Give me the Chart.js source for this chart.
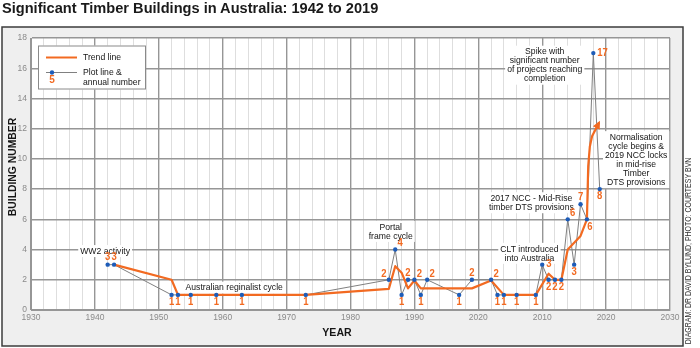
<!DOCTYPE html>
<html><head><meta charset="utf-8">
<script src="https://cdn.jsdelivr.net/npm/chart.js@4.4.1/dist/chart.umd.min.js"></script>
<style>
html,body{margin:0;padding:0;background:#fff;}
#wrap{position:relative;width:700px;height:348px;overflow:hidden;}
#title{position:absolute;left:2px;top:0px;font:bold 14.6px "Liberation Sans",Arial,sans-serif;color:#1a1a1a;white-space:nowrap;}
canvas{position:absolute;left:0;top:0;}
</style></head><body>
<div id="wrap"><canvas id="c" width="700" height="348"></canvas><div id="title">Significant Timber Buildings in Australia: 1942 to 2019</div></div>
<script>
// ---- data ----
const plotYears  = [1942,1943,1952,1953,1955,1959,1963,1973,1986,1987,1988,1989,1990,1991,1992,1997,1999,2002,2003,2004,2006,2009,2010,2011,2012,2013,2014,2015,2016,2017,2018,2019];
const plotCounts = [3,3,1,1,1,1,1,1,2,4,1,2,2,1,2,1,2,2,1,1,1,1,3,2,2,2,6,3,7,6,17,8];
const trendYears  = [1943,1952,1953,1973,1986,1987,1988,1989,1990,1991,1999,2002,2004,2009,2011,2012,2013,2014,2016,2017,2017.2,2017.45,2017.8,2018.9];
const trendValues = [3,2,1,1,1.4,2.9,2.47,1.43,1.95,1.43,1.43,1.95,1,1,2.4,2,2,4,4.9,6,9.5,10.8,11.5,12.4];
const xTickLabels = ['1930','1940','1950','1960','1970','1980','1990','2020','2010','2020','2030'];
const yTickLabels = ['0','2','4','6','8','10','12','14','16','18'];
// label placement (style) for each annual number
const labelSides = ['a','a','b','b','b','b','b','b','al','ar','b','a','ar','b','ar','b','a','ar','b','b','b','b','r','b','b','b','ar','b','a','br','r','b'];
// annotations anchored in data space
const notes = [
  {lines:['WW2 activity'], x:1941.6, y:3.9},
  {lines:['Australian reginalist cycle'], x:1961.8, y:1.48},
  {lines:['Portal','frame cycle'], x:1986.3, y:5.2},
  {lines:['CLT introduced','into Australia'], x:2008.0, y:3.75},
  {lines:['2017 NCC - Mid-Rise','timber DTS provisions'], x:2008.3, y:7.1},
  {lines:['Spike with','significant number','of projects reaching','completion'], x:2010.4, y:16.2},
  {lines:['Normalisation','cycle begins &','2019 NCC locks','in mid-rise','Timber','DTS provisions'], x:2024.7, y:9.95}
];

const ORANGE = '#f26a21', BLUE = '#1d5cb8', GREY = '#808080';
const FONT = '"Liberation Sans", Arial, sans-serif';

function txt(ctx, s, x, y, o) {
  ctx.save();
  ctx.translate(x, y);
  if (o.rot) ctx.rotate(o.rot);
  ctx.scale(o.sx || 1, 1);
  ctx.font = o.font; ctx.fillStyle = o.color || '#151515';
  ctx.textAlign = o.align || 'center'; ctx.textBaseline = 'middle';
  ctx.fillText(s, 0, 0);
  ctx.restore();
}
function tw(ctx, s, font, sx) { ctx.save(); ctx.font = font; const w = ctx.measureText(s).width * (sx || 1); ctx.restore(); return w; }

const pointsXY = plotYears.map((x, i) => ({x, y: plotCounts[i]}));
const trendXY = trendYears.map((x, i) => ({x, y: trendValues[i]}));

const decor = {
  id: 'decor',
  beforeDraw(chart) {
    const {ctx, chartArea: a} = chart;
    ctx.save();
    ctx.fillStyle = '#ffffff'; ctx.fillRect(0, 0, 700, 348);
    ctx.fillStyle = '#efefef'; ctx.fillRect(2, 27, 681, 319);
    ctx.fillStyle = '#ffffff'; ctx.fillRect(a.left, a.top, a.right - a.left, a.bottom - a.top);
    ctx.strokeStyle = '#3c3c3c'; ctx.lineWidth = 1.5; ctx.strokeRect(2, 27, 681, 319);
    ctx.restore();
  },
  beforeDatasetsDraw(chart) {
    const {ctx, scales: {x, y}} = chart;
    const f = '9.8px ' + FONT, sx = 0.88, lh = 9;
    notes.forEach(n => {
      const cx = x.getPixelForValue(n.x), cy = y.getPixelForValue(n.y);
      const w = Math.max(...n.lines.map(l => tw(ctx, l, f, sx)));
      const h = n.lines.length * lh;
      ctx.fillStyle = '#fff';
      ctx.fillRect(cx - w / 2 - 2, cy - h / 2 - 1.5, w + 4, h + 3);
      n.lines.forEach((l, i) => txt(ctx, l, cx, cy - h / 2 + lh / 2 + i * lh, {font: f, sx}));
    });
  },
  afterDatasetsDraw(chart) {
    const {ctx, scales: {x, y}} = chart;
    // arrow head at end of trend line
    const n = trendYears.length;
    const x1 = x.getPixelForValue(trendYears[n - 2]), y1 = y.getPixelForValue(trendValues[n - 2]);
    const x2 = x.getPixelForValue(trendYears[n - 1]), y2 = y.getPixelForValue(trendValues[n - 1]);
    const ang = Math.atan2(y2 - y1, x2 - x1);
    ctx.save();
    ctx.translate(x2, y2); ctx.rotate(ang);
    ctx.fillStyle = ORANGE;
    ctx.beginPath(); ctx.moveTo(2, 0); ctx.lineTo(-6, -3.8); ctx.lineTo(-6, 3.8); ctx.closePath(); ctx.fill();
    ctx.restore();
    // annual numbers
    const lf = 'bold 10px ' + FONT;
    const off = {a: [0, -7, 'center'], al: [-5, -6, 'center'], ar: [5, -6, 'center'], b: [0, 7.5, 'center'], br: [3, 7.5, 'center'], r: [4, 0, 'left']};
    plotYears.forEach((yr, i) => {
      const px = x.getPixelForValue(yr), py = y.getPixelForValue(plotCounts[i]);
      const o = off[labelSides[i]];
      txt(ctx, String(plotCounts[i]), px + o[0], py + o[1], {font: lf, color: ORANGE, align: o[2], sx: 0.95});
    });
  },
  afterDraw(chart) {
    const {ctx, chartArea: a} = chart;
    // legend
    const lx = a.left + 7, ly = a.top + 7.5;
    ctx.save();
    ctx.fillStyle = '#fff'; ctx.fillRect(lx, ly, 108, 44);
    ctx.strokeStyle = '#8a8a8a'; ctx.lineWidth = 1; ctx.strokeRect(lx + 0.5, ly + 0.5, 107, 43);
    ctx.strokeStyle = ORANGE; ctx.lineWidth = 2;
    ctx.beginPath(); ctx.moveTo(lx + 8, ly + 12); ctx.lineTo(lx + 39, ly + 12); ctx.stroke();
    ctx.strokeStyle = GREY; ctx.lineWidth = 1;
    ctx.beginPath(); ctx.moveTo(lx + 8, ly + 27); ctx.lineTo(lx + 39, ly + 27); ctx.stroke();
    ctx.fillStyle = BLUE; ctx.beginPath(); ctx.arc(lx + 14, ly + 27, 2.2, 0, Math.PI * 2); ctx.fill();
    ctx.restore();
    const f = '9.8px ' + FONT;
    txt(ctx, 'Trend line', lx + 45, ly + 12, {font: f, sx: 0.88, align: 'left'});
    txt(ctx, 'Plot line &', lx + 45, ly + 26.5, {font: f, sx: 0.88, align: 'left'});
    txt(ctx, 'annual number', lx + 45, ly + 36.5, {font: f, sx: 0.88, align: 'left'});
    txt(ctx, '5', lx + 14, ly + 35, {font: 'bold 10px ' + FONT, color: ORANGE});
    // axis titles
    txt(ctx, 'BUILDING NUMBER', 12.5, 167, {font: 'bold 11.5px ' + FONT, sx: 0.9, rot: -Math.PI / 2});
    txt(ctx, 'YEAR', 337, 333, {font: 'bold 11.5px ' + FONT, sx: 0.92});
    // credit
    txt(ctx, 'DIAGRAM: DR DAVID BYLUND; PHOTO: COURTESY BVN', 689, 251, {font: '8.5px ' + FONT, sx: 0.82, rot: -Math.PI / 2, color: '#333'});
  }
};

new Chart(document.getElementById('c'), {
  type: 'line',
  data: {
    datasets: [
      {label: 'points', data: pointsXY, showLine: false, pointRadius: 2.2, pointBackgroundColor: BLUE, pointBorderWidth: 0},
      {label: 'Trend line', data: trendXY, borderColor: ORANGE, borderWidth: 2.2, pointRadius: 0, tension: 0, borderJoinStyle: 'round'},
      {label: 'Plot line & annual number', data: pointsXY, borderColor: GREY, borderWidth: 1, pointRadius: 0, tension: 0}
    ]
  },
  options: {
    responsive: false, animation: false, events: [],
    layout: {padding: {left: 0, top: 38, right: 30, bottom: 0}},
    plugins: {legend: {display: false}, tooltip: {enabled: false}},
    scales: {
      x: {
        type: 'linear', min: 1930, max: 2030,
        afterFit(s) { s.height = 38; },
        ticks: {stepSize: 2, autoSkip: false, maxRotation: 0, padding: 3, color: '#8a8a8a', font: {family: FONT, size: 8.5},
          callback: v => (v % 10 === 0 ? xTickLabels[(v - 1930) / 10] : '')},
        grid: {drawTicks: false,
          color: c => (c.tick && c.tick.value % 10 === 0 ? '#969696' : '#dedede'),
          lineWidth: c => (c.tick && c.tick.value % 10 === 0 ? 1.4 : 1)},
        border: {display: true, color: '#969696', width: 1}
      },
      y: {
        min: 0, max: 18,
        afterFit(s) { s.width = 31; },
        ticks: {stepSize: 2, padding: 4, color: '#8a8a8a', font: {family: FONT, size: 8.5},
          callback: v => yTickLabels[v / 2]},
        grid: {drawTicks: false, color: '#969696', lineWidth: 1.4},
        border: {display: true, color: '#969696', width: 1}
      }
    }
  },
  plugins: [decor]
});
</script>
</body></html>
